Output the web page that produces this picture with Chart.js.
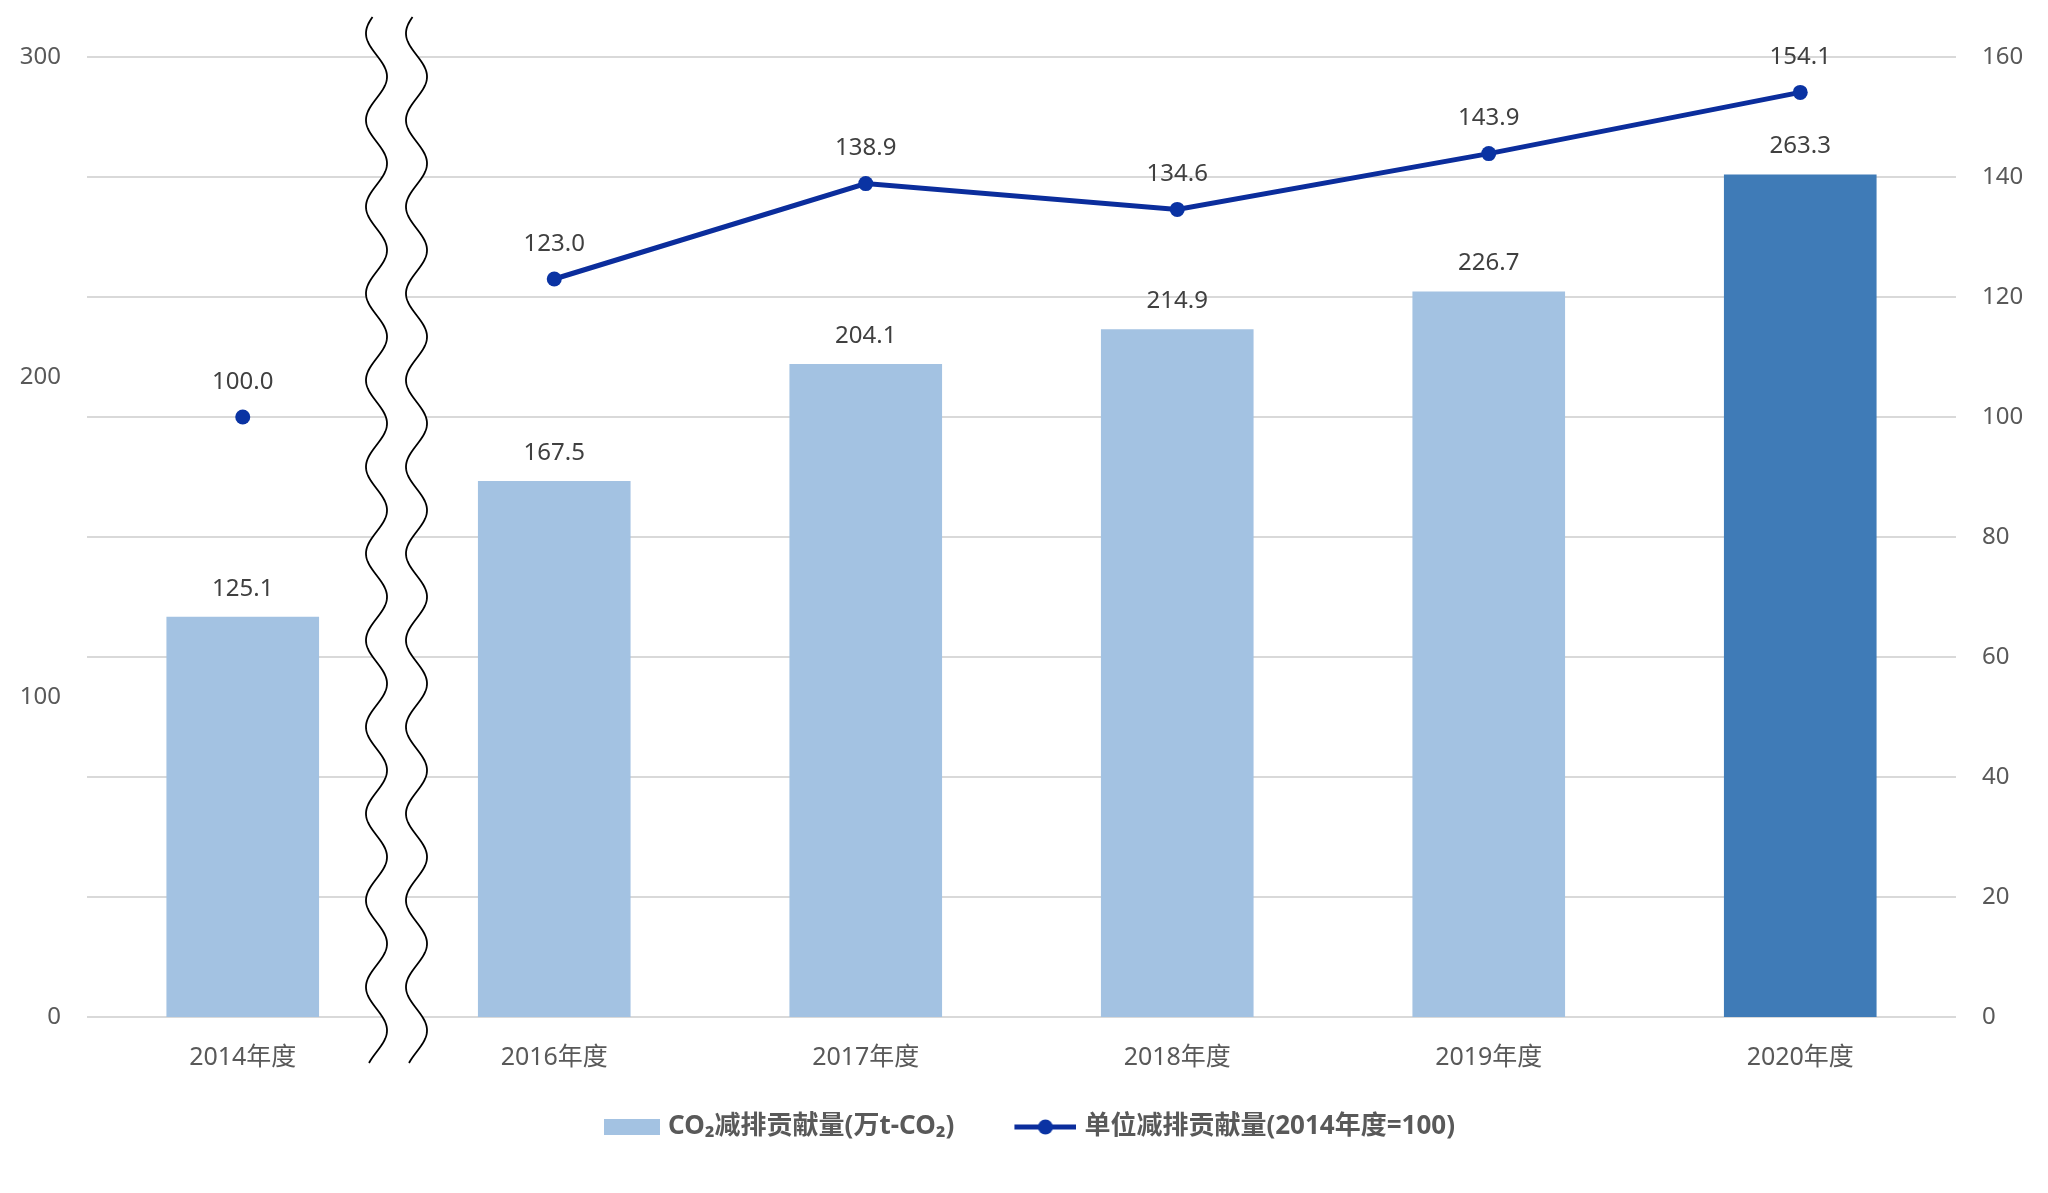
<!DOCTYPE html>
<html>
<head>
<meta charset="utf-8">
<script src="https://cdn.jsdelivr.net/npm/chart.js@4.4.1/dist/chart.umd.min.js"></script>
<style>
html,body{margin:0;padding:0;background:#fff;}
#wrap{width:2048px;height:1193px;position:relative;}
</style>
</head>
<body>
<div id="wrap"><canvas id="c" width="2048" height="1193"></canvas></div>
<script>
// ---- data ----
const categories = ['2014年度', '2016年度', '2017年度', '2018年度', '2019年度', '2020年度'];
const co2Values = [125.1, 167.5, 204.1, 214.9, 226.7, 263.3];
const unitValues = [100.0, 123.0, 138.9, 134.6, 143.9, 154.1];
const leftTickValues = [0, 100, 200, 300];
const rightTickValues = [0, 20, 40, 60, 80, 100, 120, 140, 160];
const seriesNames = ['CO₂减排贡献量(万t-CO₂)', '单位减排贡献量(2014年度=100)'];

// ---- styles ----
const FONT = '"Noto Sans", "Noto Sans CJK SC", sans-serif';
const barLight = '#A3C2E2';
const barDark = '#3F7BB7';
const lineColor = '#0B2D9C';
const pointColor = '#0A33A3';
const tickColor = '#595959';
const labelColor = '#404040';
const LEGEND_PAD = 55;
const LEGEND_FONT = 26;
const LEGEND_CENTER_Y = 1127;

const barColors = co2Values.map((v, i) => i === co2Values.length - 1 ? barDark : barLight);

// legend symbol images (72 wide, drawn centered in a 62 px slot)
function makeBarSymbol() {
  const c = document.createElement('canvas');
  c.width = 72; c.height = 16;
  const g = c.getContext('2d');
  g.fillStyle = barLight; g.fillRect(16, 0, 56, 16);
  return c;
}
function makeLineSymbol() {
  const c = document.createElement('canvas');
  c.width = 72; c.height = 18;
  const g = c.getContext('2d');
  g.strokeStyle = lineColor; g.lineWidth = 5;
  g.beginPath(); g.moveTo(10, 9); g.lineTo(72, 9); g.stroke();
  g.fillStyle = pointColor;
  g.beginPath(); g.arc(41, 9, 7.5, 0, Math.PI * 2); g.fill();
  return c;
}
const barSym = makeBarSymbol();
const lineSym = makeLineSymbol();

const valueLabels = {
  id: 'valueLabels',
  afterDatasetsDraw(chart) {
    const ctx = chart.ctx;
    ctx.save();
    ctx.font = '24px ' + FONT;
    ctx.fillStyle = labelColor;
    ctx.textAlign = 'center';
    ctx.textBaseline = 'middle';
    chart.data.datasets.forEach((ds, di) => {
      const meta = chart.getDatasetMeta(di);
      const off = ds.type === 'line' ? 35 : 28;
      meta.data.forEach((el, i) => {
        const v = ds.data[i];
        if (v == null) return;
        ctx.fillText(v.toFixed(1), el.x, el.y - off);
      });
    });
    ctx.restore();
  }
};

const legendPlace = {
  id: 'legendPlace',
  afterLayout(chart) {
    const lg = chart.legend;
    if (!lg) return;
    const h = lg.bottom - lg.top;
    lg.top = LEGEND_CENTER_Y - LEGEND_PAD - LEGEND_FONT / 2;
    lg.bottom = lg.top + h;
  }
};

const axisBreak = {
  id: 'axisBreak',
  afterDraw(chart) {
    const ctx = chart.ctx;
    const xs = chart.scales.x;
    const area = chart.chartArea;
    const bx = (xs.getPixelForValue(0) + xs.getPixelForValue(1)) / 2 - 2;
    const c1 = bx - 20, c2 = bx + 20;
    const amp = 10.5, period = 86.7;
    const y0 = area.top - 2;
    const yTop = area.top - 40, yBot = area.bottom + 46;
    const fx = (c, y) => c + amp * Math.sin(2 * Math.PI * (y - y0) / period);
    ctx.save();
    ctx.beginPath();
    for (let y = yTop; y <= yBot; y += 1) {
      const x = fx(c1, y);
      if (y === yTop) ctx.moveTo(x, y); else ctx.lineTo(x, y);
    }
    for (let y = yBot; y >= yTop; y -= 1) ctx.lineTo(fx(c2, y), y);
    ctx.closePath();
    ctx.fillStyle = '#ffffff';
    ctx.fill();
    ctx.strokeStyle = '#000000';
    ctx.lineWidth = 1.8;
    [c1, c2].forEach(c => {
      ctx.beginPath();
      for (let y = yTop; y <= yBot; y += 1) {
        const x = fx(c, y);
        if (y === yTop) ctx.moveTo(x, y); else ctx.lineTo(x, y);
      }
      ctx.stroke();
    });
    ctx.restore();
  }
};

new Chart(document.getElementById('c'), {
  type: 'bar',
  data: {
    labels: categories,
    datasets: [
      {
        type: 'line',
        label: seriesNames[1],
        data: unitValues,
        yAxisID: 'y1',
        borderColor: lineColor,
        borderWidth: 5,
        pointRadius: 7.5,
        pointHoverRadius: 7.5,
        pointBackgroundColor: pointColor,
        pointBorderColor: pointColor,
        pointBorderWidth: 0,
        tension: 0,
        order: 0,
        segment: {
          borderColor: c => c.p0DataIndex === 0 ? 'rgba(0,0,0,0)' : undefined
        }
      },
      {
        type: 'bar',
        label: seriesNames[0],
        data: co2Values,
        yAxisID: 'y',
        backgroundColor: barColors,
        borderWidth: 0,
        categoryPercentage: 1,
        barPercentage: 0.49,
        order: 1
      }
    ]
  },
  options: {
    responsive: false,
    devicePixelRatio: 1,
    animation: false,
    layout: { padding: { top: 57, bottom: 25, left: 0, right: 0 } },
    plugins: {
      tooltip: { enabled: false },
      legend: {
        position: 'bottom',
        labels: {
          usePointStyle: true,
          pointStyleWidth: 62,
          padding: LEGEND_PAD,
          color: tickColor,
          font: { family: FONT, size: LEGEND_FONT, weight: 'bold' },
          generateLabels() {
            return [
              { text: seriesNames[0], pointStyle: barSym, fillStyle: barLight, strokeStyle: 'rgba(0,0,0,0)', lineWidth: 0, datasetIndex: 1, fontColor: tickColor },
              { text: seriesNames[1], pointStyle: lineSym, fillStyle: lineColor, strokeStyle: 'rgba(0,0,0,0)', lineWidth: 0, datasetIndex: 0, fontColor: tickColor }
            ];
          }
        }
      }
    },
    scales: {
      x: {
        grid: { display: false, drawTicks: false },
        border: { display: false },
        ticks: { color: tickColor, font: { family: FONT, size: 25 }, padding: 26 },
        afterFit(s) { s.height = 60; }
      },
      y: {
        position: 'left',
        min: 0, max: 300,
        afterBuildTicks(s) { s.ticks = leftTickValues.map(v => ({ value: v })); },
        grid: { display: false, drawTicks: false },
        border: { display: false },
        ticks: { color: tickColor, font: { family: FONT, size: 24 }, padding: 26 },
        afterFit(s) { s.width = 87; }
      },
      y1: {
        position: 'right',
        min: 0, max: 160,
        afterBuildTicks(s) { s.ticks = rightTickValues.map(v => ({ value: v })); },
        grid: { color: '#D9D9D9', lineWidth: 2, drawTicks: false },
        border: { display: false },
        ticks: { color: tickColor, font: { family: FONT, size: 24 }, padding: 26 },
        afterFit(s) { s.width = 92; }
      }
    }
  },
  plugins: [valueLabels, legendPlace, axisBreak]
});
</script>
</body>
</html>
